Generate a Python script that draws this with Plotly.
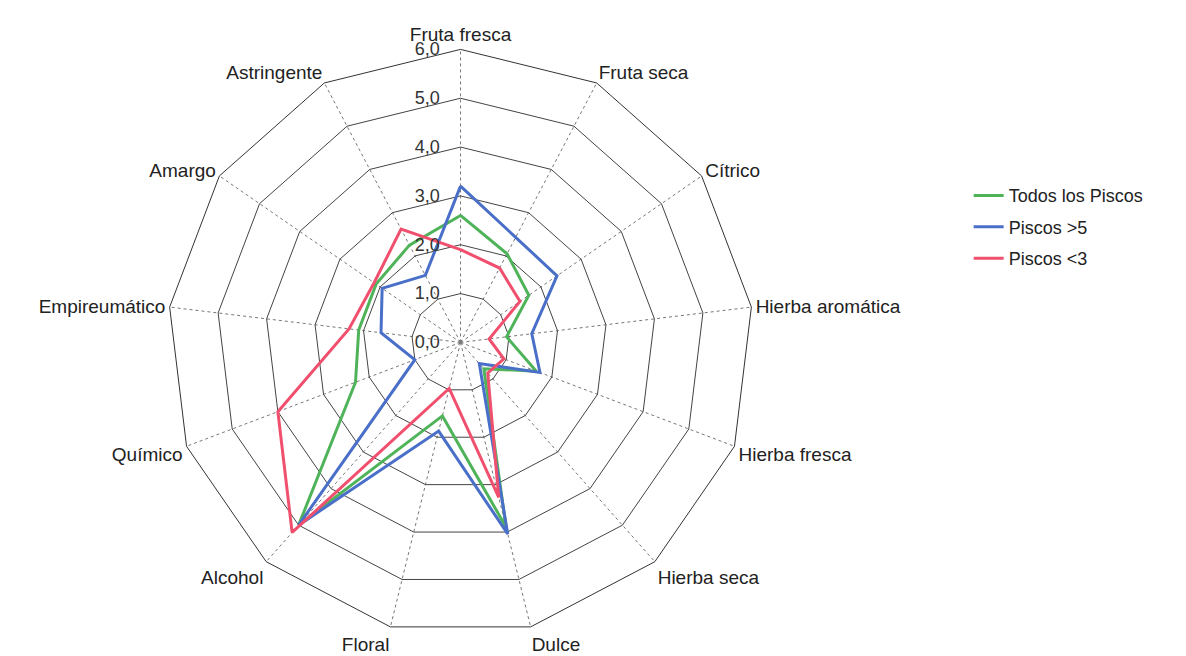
import plotly.graph_objects as go

categories = ["Fruta fresca", "Fruta seca", "Cítrico", "Hierba aromática", "Hierba fresca",
              "Hierba seca", "Dulce", "Floral", "Alcohol", "Químico", "Empireumático",
              "Amargo", "Astringente"]
todos = [2.6, 2.05, 1.7, 0.95, 1.66, 0.72, 3.9, 1.55, 5.0, 2.3, 2.1, 2.1, 2.25]
mayor5 = [3.2, 2.43, 2.4, 1.47, 1.74, 0.58, 4.04, 1.87, 5.0, 1.0, 1.64, 1.95, 1.55]
menor3 = [1.9, 1.72, 1.48, 0.59, 0.95, 0.84, 3.27, 0.97, 5.2, 4.0, 2.3, 2.15, 2.62]
tick_vals = [0, 1, 2, 3, 4, 5, 6]
tick_text = ["0,0", "1,0", "2,0", "3,0", "4,0", "5,0", "6,0"]

series = [
    ("Todos los Piscos", todos, "#4fb35a"),
    ("Piscos >5", mayor5, "#4a6fc8"),
    ("Piscos <3", menor3, "#f0506e"),
]

fig = go.Figure()
for name, vals, col in series:
    fig.add_trace(go.Scatterpolar(
        r=vals + vals[:1], theta=categories + categories[:1],
        mode="lines", name=name, legendgroup=name,
        line=dict(color=col, width=3),
    ))

fig.update_layout(
    width=1186, height=656,
    margin=dict(l=0, r=0, t=0, b=0),
    paper_bgcolor="white",
    font=dict(family="Liberation Sans, Arial, sans-serif", size=18, color="#222"),
    polar=dict(
        domain=dict(x=[0.1345, 0.6286], y=[0.0436, 0.9369]),
        bgcolor="white",
        gridshape="linear",
        angularaxis=dict(
            direction="clockwise", rotation=90,
            showline=True, linecolor="#333", linewidth=1,
            gridcolor="#777", gridwidth=1, griddash="dot",
            ticks="", tickfont=dict(size=19, color="#222"),
        ),
        radialaxis=dict(
            range=[0, 6], tickvals=tick_vals, ticktext=tick_text,
            angle=90, tickangle=90, showline=False,
            ticks="outside", ticklen=14, tickcolor="rgba(0,0,0,0)",
            gridcolor="#444", gridwidth=1,
            tickfont=dict(size=18, color="#333"),
            side="counterclockwise",
        ),
    ),
    legend=dict(
        x=0.81, y=0.742, xanchor="left", yanchor="top",
        font=dict(size=18, color="#222"),
        bgcolor="rgba(0,0,0,0)",
        tracegroupgap=5,
    ),
)

fig.write_html("out.html")
